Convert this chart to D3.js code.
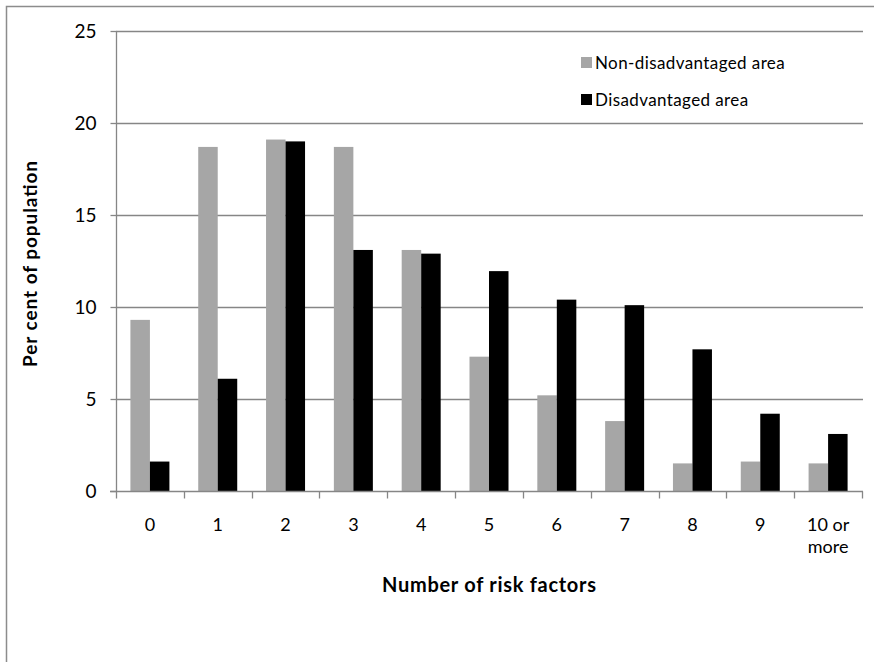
<!DOCTYPE html>
<html>
<head>
<meta charset="utf-8">
<script src="https://cdn.jsdelivr.net/npm/d3@7"></script>
<style>
  html, body { margin: 0; padding: 0; background: #fff; }
  svg { display: block; }
  text { font-family: Lato, "Open Sans", sans-serif; fill: #000; }
</style>
</head>
<body>
<svg id="chart" width="874" height="662"></svg>
<script>
// Risk factor counts and share of population (%) in each area type
const categories = ["0", "1", "2", "3", "4", "5", "6", "7", "8", "9", "10 or more"];
const nonDisadvantaged = [9.3, 18.7, 19.1, 18.7, 13.1, 7.3, 5.2, 3.8, 1.5, 1.6, 1.5];
const disadvantaged = [1.6, 6.1, 19.0, 13.1, 12.9, 11.95, 10.4, 10.1, 7.7, 4.2, 3.1];
const yTicks = [0, 5, 10, 15, 20, 25];
const seriesNames = ["Non-disadvantaged area", "Disadvantaged area"];
const seriesColors = ["#a6a6a6", "#000000"];

const svg = d3.select("#chart");
const plotLeft = 116, plotRight = 862, plotTop = 31, plotBottom = 491;
const axisColor = "#868686";

// outer frame of the chart area
svg.append("path")
  .attr("d", "M6.5,662 V6.5 H874")
  .attr("fill", "none").attr("stroke", "#8c8c8c").attr("stroke-width", 1.5);

const x = d3.scaleBand().domain(categories).range([plotLeft, plotRight]);
const y = d3.scaleLinear().domain([0, 25]).range([plotBottom, plotTop]);

// horizontal gridlines
svg.append("g").selectAll("line").data(yTicks.filter(d => d > 0)).join("line")
  .attr("x1", plotLeft).attr("x2", plotRight + 1)
  .attr("y1", d => Math.round(y(d)) + 0.5).attr("y2", d => Math.round(y(d)) + 0.5)
  .attr("stroke", axisColor).attr("stroke-width", 1.3);

// bars
const inner = d3.scaleBand().domain([0, 1]).range([0, 39]);
const offset = (x.bandwidth() - 39) / 2;
const rows = categories.map((c, i) => ({ c, vals: [nonDisadvantaged[i], disadvantaged[i]] }));
const groups = svg.append("g").selectAll("g").data(rows).join("g")
  .attr("transform", d => `translate(${x(d.c) + offset},0)`);
groups.selectAll("rect").data(d => d.vals.map((v, k) => ({ v, k }))).join("rect")
  .attr("x", d => inner(d.k))
  .attr("width", inner.bandwidth())
  .attr("y", d => y(d.v))
  .attr("height", d => plotBottom - y(d.v))
  .attr("fill", d => seriesColors[d.k]);

// y axis
const yAxis = svg.append("g").attr("transform", `translate(${plotLeft + 0.5},0)`)
  .call(d3.axisLeft(y).tickValues(yTicks).tickSize(6).tickPadding(14).tickFormat(d3.format("d")));
yAxis.select(".domain").attr("stroke", axisColor).attr("stroke-width", 1.3).attr("d", `M0,${plotTop} V${plotBottom}`);
yAxis.selectAll(".tick line").attr("stroke", axisColor).attr("stroke-width", 1.3);
yAxis.selectAll(".tick text").attr("font-size", 19).attr("font-family", "Lato, sans-serif").attr("fill", "#000");

// x axis (ticks sit on category boundaries)
const xAxisG = svg.append("g").attr("transform", `translate(0,${plotBottom + 0.5})`);
xAxisG.append("line").attr("x1", plotLeft - 6).attr("x2", plotRight + 1)
  .attr("stroke", axisColor).attr("stroke-width", 1.3);
const boundaries = categories.map(c => x(c) + x.bandwidth()).concat([plotLeft]);
xAxisG.selectAll("line.tk").data(boundaries).join("line").attr("class", "tk")
  .attr("x1", d => Math.round(d) + 0.5).attr("x2", d => Math.round(d) + 0.5)
  .attr("y1", 0).attr("y2", 7)
  .attr("stroke", axisColor).attr("stroke-width", 1.3);
const xLabels = xAxisG.selectAll("text.lb").data(categories).join("text").attr("class", "lb")
  .attr("font-size", 18)
  .attr("text-anchor", "middle");
xLabels.each(function(d) {
  const t = d3.select(this);
  const cx = x(d) + x.bandwidth() / 2;
  const parts = d === "10 or more" ? ["10 or", "more"] : [d];
  parts.forEach((p, i) => {
    t.append("tspan").attr("x", cx).attr("y", 39 + i * 22).text(p);
  });
});

// axis titles
svg.append("text")
  .attr("x", 489).attr("y", 592)
  .attr("text-anchor", "middle").attr("font-size", 20).attr("font-weight", "bold")
  .attr("textLength", 214).attr("lengthAdjust", "spacing")
  .text("Number of risk factors");
svg.append("text")
  .attr("transform", `translate(37,264) rotate(-90)`)
  .attr("text-anchor", "middle").attr("font-size", 19).attr("font-weight", "bold")
  .attr("textLength", 206).attr("lengthAdjust", "spacing")
  .text("Per cent of population");

// legend
const legend = svg.append("g").selectAll("g").data(seriesNames).join("g")
  .attr("transform", (d, i) => `translate(581,${57 + i * 37})`);
legend.append("rect").attr("width", 11).attr("height", 11)
  .attr("fill", (d, i) => seriesColors[i]);
legend.append("text").attr("x", 14).attr("y", 12)
  .attr("font-size", 17).attr("letter-spacing", 0.4)
  .text(d => d);
</script>
</body>
</html>
